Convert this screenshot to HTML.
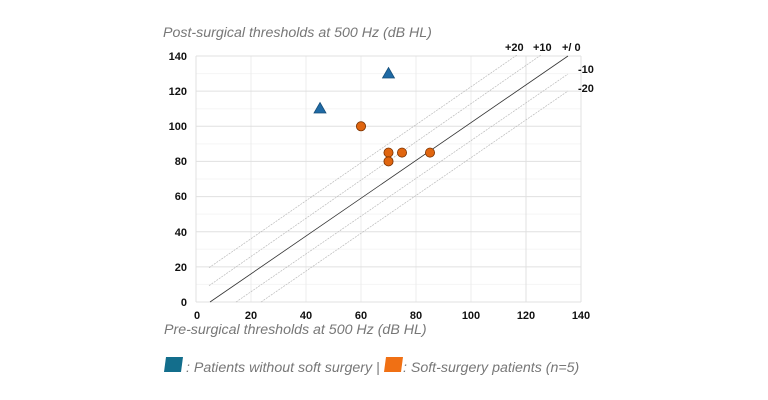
<!DOCTYPE html>
<html><head><meta charset="utf-8"><style>
html,body{margin:0;padding:0;background:#fff;}
svg{display:block;}
</style></head><body>
<svg width="768" height="400" xmlns="http://www.w3.org/2000/svg" font-family="Liberation Sans, sans-serif">
<rect width="768" height="400" fill="#fff"/>
<text x="163" y="37" font-size="14.2" font-style="italic" fill="#777">Post-surgical thresholds at 500 Hz (dB HL)</text>
<g stroke="#f5f5f5" stroke-width="1">
<line x1="196" y1="284.4" x2="581" y2="284.4"/><line x1="196" y1="249.3" x2="581" y2="249.3"/>
<line x1="196" y1="214.1" x2="581" y2="214.1"/><line x1="196" y1="179" x2="581" y2="179"/>
<line x1="196" y1="143.9" x2="581" y2="143.9"/><line x1="196" y1="108.7" x2="581" y2="108.7"/>
<line x1="196" y1="73.6" x2="581" y2="73.6"/>
</g>
<g stroke="#ececec" stroke-width="1">
<line x1="251" y1="56" x2="251" y2="302"/><line x1="306" y1="56" x2="306" y2="302"/>
<line x1="361" y1="56" x2="361" y2="302"/><line x1="416" y1="56" x2="416" y2="302"/>
<line x1="471" y1="56" x2="471" y2="302"/>
</g>
<g stroke="#e0e0e0" stroke-width="1">
<line x1="196" y1="266.9" x2="581" y2="266.9"/><line x1="196" y1="231.7" x2="581" y2="231.7"/>
<line x1="196" y1="196.6" x2="581" y2="196.6"/><line x1="196" y1="161.4" x2="581" y2="161.4"/>
<line x1="196" y1="126.3" x2="581" y2="126.3"/><line x1="196" y1="91.1" x2="581" y2="91.1"/>
<line x1="196" y1="56" x2="581" y2="56"/>
<line x1="526" y1="56" x2="526" y2="302"/>
<line x1="581" y1="56" x2="581" y2="302"/>
<line x1="196" y1="302" x2="581" y2="302"/><line x1="196" y1="56" x2="196" y2="302"/>
</g>
<g stroke="#bbb" stroke-width="0.7" stroke-dasharray="2,1">
<line x1="209" y1="267.7" x2="517" y2="55"/>
<line x1="209" y1="285.7" x2="541" y2="55"/>
<line x1="236" y1="302" x2="568" y2="74"/>
<line x1="261" y1="302" x2="568" y2="91"/>
</g>
<line x1="210" y1="302" x2="568" y2="56" stroke="#333" stroke-width="0.8"/>
<g font-size="11" font-weight="bold" fill="#111">
<text x="505" y="51">+20</text><text x="533" y="51">+10</text><text x="562" y="51">+/ 0</text>
<text x="578" y="73">-10</text><text x="578" y="92">-20</text>
<g text-anchor="end">
<text x="187" y="306">0</text><text x="187" y="271">20</text><text x="187" y="236">40</text>
<text x="187" y="200">60</text><text x="187" y="165">80</text><text x="187" y="130">100</text>
<text x="187" y="95">120</text><text x="187" y="60">140</text>
</g>
<g text-anchor="middle">
<text x="197" y="319">0</text><text x="251" y="319">20</text><text x="306" y="319">40</text>
<text x="361" y="319">60</text><text x="416" y="319">80</text><text x="471" y="319">100</text>
<text x="526" y="319">120</text><text x="581" y="319">140</text>
</g>
</g>
<text x="164" y="334" font-size="14.2" font-style="italic" fill="#777">Pre-surgical thresholds at 500 Hz (dB HL)</text>
<g fill="#1f6aa5" stroke="#174f7a" stroke-width="0.8">
<polygon points="320,102.5 326,113 314,113"/>
<polygon points="388.5,67.5 394.5,78 382.5,78"/>
</g>
<g fill="#e0650f" stroke="#7a3200" stroke-width="0.8">
<circle cx="361" cy="126.3" r="4.6"/>
<circle cx="388.5" cy="152.6" r="4.6"/>
<circle cx="402" cy="152.6" r="4.6"/>
<circle cx="430" cy="152.6" r="4.6"/>
<circle cx="388.5" cy="161.4" r="4.6"/>
</g>
<path d="M166,357 L183,357 L181,372 L164,372 Z" fill="#136e8c"/>
<path d="M386,357 L403,357 L401,372 L384,372 Z" fill="#f07014"/>
<text x="186" y="372" font-size="14.2" font-style="italic" fill="#777">: Patients without soft surgery |</text>
<text x="403" y="372" font-size="14.2" font-style="italic" fill="#777">: Soft-surgery patients (n=5)</text>
</svg>
</body></html>
